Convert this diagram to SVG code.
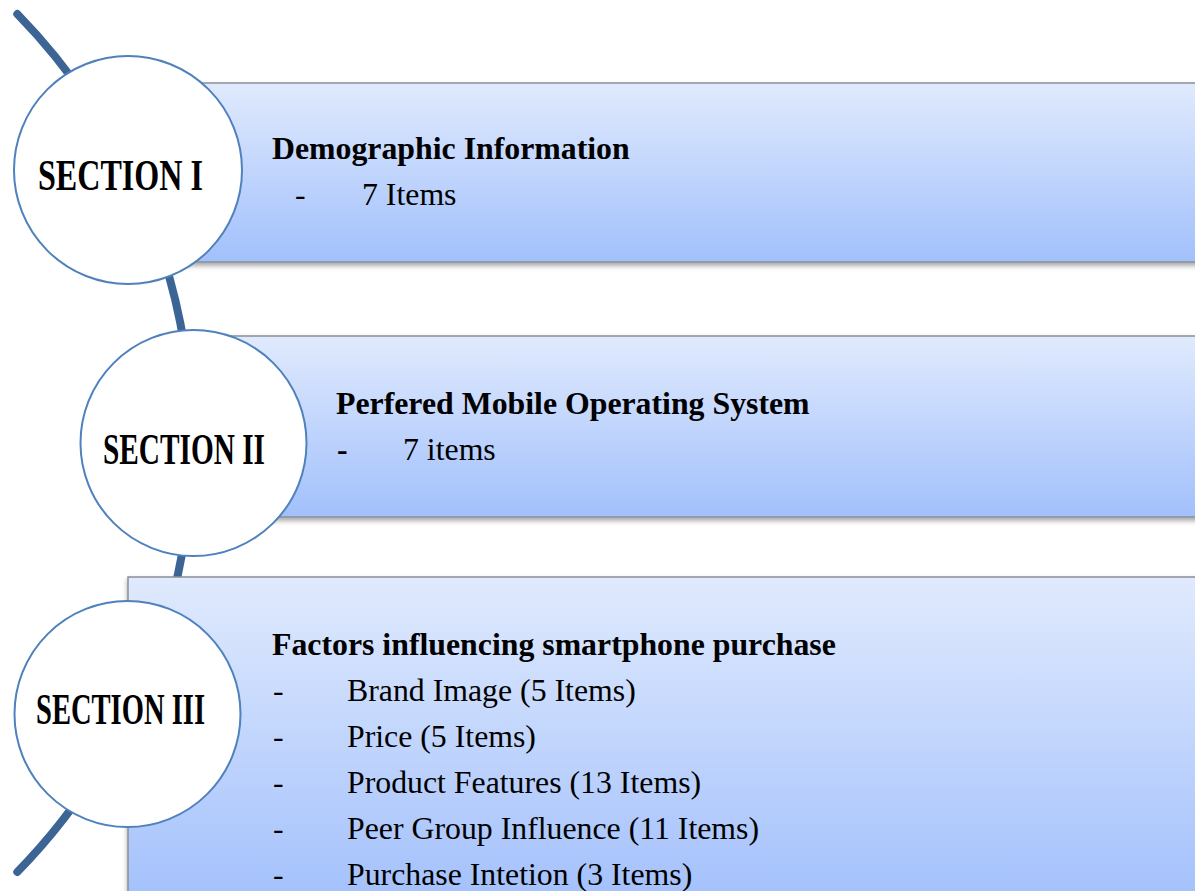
<svg xmlns="http://www.w3.org/2000/svg" width="1195" height="891" viewBox="0 0 1195 891">
<style>
.box{fill:url(#g);stroke:#8a8f98;stroke-width:1.5;filter:url(#sh)}
.circ{fill:#ffffff;stroke:#4f81bd;stroke-width:2}
.sec{font-family:"Liberation Serif",serif;font-weight:bold;font-size:45px;fill:#000}
.h{font-family:"Liberation Serif",serif;font-weight:bold;font-size:31.8px;fill:#000}
.t{font-family:"Liberation Serif",serif;font-size:31.8px;fill:#000}
.b{font-weight:bold}
</style>
<defs>
<linearGradient id="g" x1="0" y1="0" x2="0" y2="1">
<stop offset="0" stop-color="#e0eafd"/>
<stop offset="1" stop-color="#a2c0fc"/>
</linearGradient>
<filter id="sh" x="-5%" y="-10%" width="110%" height="130%">
<feDropShadow dx="0" dy="3" stdDeviation="2.5" flood-color="#000" flood-opacity="0.35"/>
</filter>
</defs>
<rect width="1195" height="891" fill="#ffffff"/>
<g id="connectors">
<path d="M 17.3 14 A 614 614 0 0 1 17.3 872" fill="none" stroke="#3c6595" stroke-width="8" stroke-linecap="round"/>
</g>
<g id="section1">
<rect class="box" x="128" y="83" width="1080" height="179"/>
<circle class="circ" cx="128" cy="170" r="114"/>
<text class="sec" x="38" y="190" textLength="165" lengthAdjust="spacingAndGlyphs">SECTION I</text>
<text class="h" x="272" y="159">Demographic Information</text>
<text class="t" x="295" y="205">-<tspan x="362">7 Items</tspan></text>
</g>
<g id="section2">
<rect class="box" x="193" y="336" width="1015" height="181"/>
<circle class="circ" cx="193.5" cy="443" r="113"/>
<text class="sec" x="103" y="464" textLength="162" lengthAdjust="spacingAndGlyphs">SECTION II</text>
<text class="h" x="336" y="414">Perfered Mobile Operating System</text>
<text class="t" x="337" y="460"><tspan class="b">-</tspan><tspan x="403">7 items</tspan></text>
</g>
<g id="section3">
<rect class="box" x="128" y="577" width="1080" height="330"/>
<circle class="circ" cx="127.5" cy="714" r="113"/>
<text class="sec" x="36" y="724" textLength="169" lengthAdjust="spacingAndGlyphs">SECTION III</text>
<text class="h" x="272" y="655">Factors influencing smartphone purchase</text>
<text class="t" x="273" y="701">-<tspan x="347">Brand Image (5 Items)</tspan></text>
<text class="t" x="273" y="747">-<tspan x="347">Price (5 Items)</tspan></text>
<text class="t" x="273" y="793">-<tspan x="347">Product Features (13 Items)</tspan></text>
<text class="t" x="273" y="839">-<tspan x="347">Peer Group Influence (11 Items)</tspan></text>
<text class="t" x="273" y="885">-<tspan x="347">Purchase Intetion (3 Items)</tspan></text>
</g>
</svg>
